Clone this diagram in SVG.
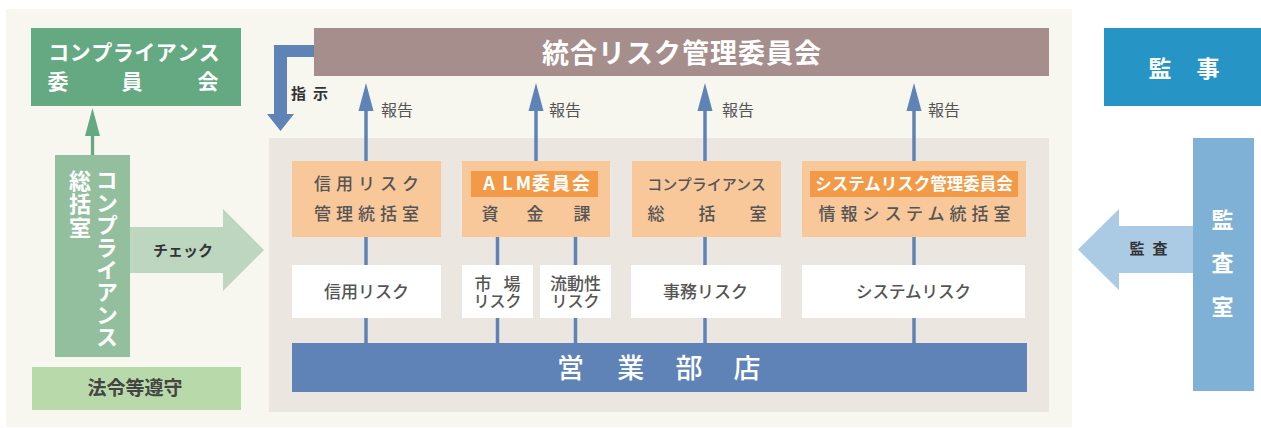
<svg xmlns="http://www.w3.org/2000/svg" width="1261" height="428" viewBox="0 0 1261 428">
<style>
text{font-family:"Noto Sans CJK JP","Noto Sans",sans-serif;}
.w{fill:#ffffff;font-weight:bold;}
.d{fill:#555555;font-weight:500;}
.k{fill:#333333;font-weight:bold;}
.m{text-anchor:middle;}
.v{writing-mode:vertical-rl;text-orientation:upright;}
.orange{fill:#f8c89b;}
.tag{fill:#f39a48;}
.white{fill:#ffffff;}
.blue{fill:#5f83b7;}
.vline{stroke:#5f83b7;stroke-width:3.5;fill:none;}
</style>
<rect x="0" y="0" width="1261" height="428" fill="#ffffff"/>
<rect id="bg" x="6" y="9" width="1066" height="418" fill="#f7f6ef"/>
<rect id="inner" x="269" y="138" width="780" height="274" fill="#ebe6e0"/>

<g id="connectors">
  <line class="vline" x1="366" y1="105" x2="366" y2="343"/>
  <polygon class="blue" points="366,83 358.5,111 373.5,111"/>
  <line class="vline" x1="536" y1="105" x2="536" y2="161"/>
  <polygon class="blue" points="536,83 528.5,111 543.5,111"/>
  <line class="vline" x1="497.5" y1="237" x2="497.5" y2="343"/>
  <line class="vline" x1="575.5" y1="237" x2="575.5" y2="343"/>
  <line class="vline" x1="705" y1="105" x2="705" y2="343"/>
  <polygon class="blue" points="705,83 697.5,111 712.5,111"/>
  <line class="vline" x1="914" y1="105" x2="914" y2="343"/>
  <polygon class="blue" points="914,83 906.5,111 921.5,111"/>
  <text class="d" x="381" y="116" font-size="16" style="font-weight:normal">報告</text>
  <text class="d" x="549" y="116" font-size="16" style="font-weight:normal">報告</text>
  <text class="d" x="722" y="116" font-size="16" style="font-weight:normal">報告</text>
  <text class="d" x="928" y="116" font-size="16" style="font-weight:normal">報告</text>
  <polygon class="blue" points="314,45 274,45 274,114 267,114 280.5,131 294,114 287,114 287,57 314,57"/>
  <text class="k" x="298.5 320.5" y="99" font-size="15" text-anchor="middle">指示</text>
  <line x1="92.5" y1="130" x2="92.5" y2="155" stroke="#64a982" stroke-width="3.3"/>
  <polygon points="92.5,108 85,136 100,136" fill="#64a982"/>
  <polygon points="130,227 223,227 223,209 264,250 223,291 223,273 130,273" fill="#bcd6c0"/>
  <text class="k m" x="183" y="256" font-size="15">チェック</text>
  <polygon points="1193,226 1119,226 1119,209 1078,249.5 1119,290 1119,273 1193,273" fill="#abcbe5"/>
  <text class="k" x="1137 1160" y="254" font-size="15" text-anchor="middle">監査</text>
</g>

<g id="top-committee">
  <rect x="314" y="28" width="735" height="48" fill="#a68e8c"/>
  <text class="w m" x="682" y="63" font-size="27" letter-spacing="1">統合リスク管理委員会</text>
</g>

<g id="compliance-committee">
  <rect x="31" y="28" width="210" height="78" fill="#64a982"/>
  <text class="w" x="58.75 80.25 101.75 123.25 144.75 166.25 187.75 209.25" y="60" font-size="21" text-anchor="middle">コンプライアンス</text>
  <text class="w" x="58 132 208" y="89" font-size="21" text-anchor="middle">委員会</text>
</g>

<g id="compliance-office">
  <rect x="55" y="155" width="75" height="202" fill="#93bf9e"/>
  <text class="w v" font-size="22" x="107" y="169" letter-spacing="0.4">コンプライアンス</text>
  <text class="w v" font-size="22" x="80" y="169.5" letter-spacing="1.5">総括室</text>
</g>

<g id="compliance-law">
  <rect x="32" y="367" width="209" height="43" fill="#b8d9a9"/>
  <text class="m" x="135" y="395" font-size="19" fill="#444444" font-weight="bold">法令等遵守</text>
</g>

<g id="credit-office">
  <rect class="orange" x="292" y="161" width="149" height="76"/>
  <text class="d" x="322.5 344.5 366.5 388.5 410.5" y="190" font-size="17" text-anchor="middle">信用リスク</text>
  <text class="d" x="322.5 344.5 366.5 388.5 410.5" y="220" font-size="17" text-anchor="middle">管理統括室</text>
</g>

<g id="alm">
  <rect class="orange" x="462" y="161" width="148" height="76"/>
  <rect class="tag" x="471" y="171" width="127" height="26"/>
  <text class="w" x="489 507.5 523.5 541 561 581" y="190" font-size="18" text-anchor="middle">ALM委員会</text>
  <text class="d" x="490 535 582" y="220" font-size="17" text-anchor="middle">資金課</text>
</g>

<g id="compliance-dept">
  <rect class="orange" x="632" y="161" width="149" height="76"/>
  <text class="d m" x="706.5" y="190" font-size="15">コンプライアンス</text>
  <text class="d" x="656 707 758" y="220" font-size="17" text-anchor="middle">総括室</text>
</g>

<g id="system-office">
  <rect class="orange" x="802" y="161" width="224" height="76"/>
  <rect class="tag" x="810" y="171" width="208" height="26"/>
  <text class="w m" x="914" y="190" font-size="16.5">システムリスク管理委員会</text>
  <text class="d" x="827 849 871 893 914.5 936 958 980 1002" y="220" font-size="17" text-anchor="middle">情報システム統括室</text>
</g>

<g id="credit-risk">
  <rect class="white" x="292" y="265" width="149" height="53"/>
  <text class="d m" x="366.5" y="298" font-size="17">信用リスク</text>
</g>

<g id="market-risk">
  <rect class="white" x="462" y="265" width="71" height="53"/>
  <text class="d" x="483 512" y="290" font-size="17" text-anchor="middle">市場</text>
  <text class="d m" x="497.5" y="307" font-size="16">リスク</text>
</g>

<g id="liquidity-risk">
  <rect class="white" x="540" y="265" width="71" height="53"/>
  <text class="d m" x="575.5" y="290" font-size="17">流動性</text>
  <text class="d m" x="575.5" y="307" font-size="16">リスク</text>
</g>

<g id="operational-risk">
  <rect class="white" x="631" y="265" width="150" height="53"/>
  <text class="d m" x="705.5" y="298" font-size="17">事務リスク</text>
</g>

<g id="system-risk">
  <rect class="white" x="802" y="265" width="223" height="53"/>
  <text class="d m" x="913.5" y="298" font-size="16.5">システムリスク</text>
</g>

<g id="branches">
  <rect class="blue" x="292" y="343" width="735" height="49"/>
  <text class="w" x="570.5 630.7 689 747" y="378" font-size="27" text-anchor="middle" style="font-weight:500">営業部店</text>
</g>

<g id="auditor">
  <rect x="1104" y="28" width="157" height="78" fill="#2695c6"/>
  <text class="w" x="1160 1208" y="77" font-size="23" text-anchor="middle">監事</text>
</g>

<g id="audit-office">
  <rect x="1193" y="138" width="61" height="253" fill="#7fb1d6"/>
  <text class="w v" font-size="22" x="1222.5" y="208.5" letter-spacing="21.5">監査室</text>
</g>
</svg>
